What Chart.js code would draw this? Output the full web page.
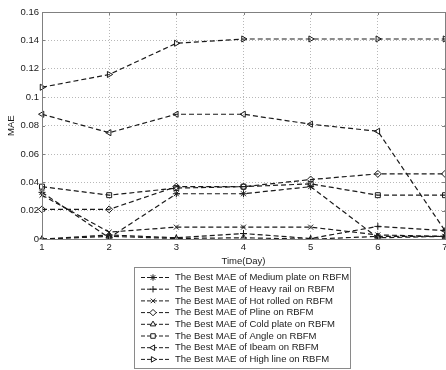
<!DOCTYPE html>
<html>
<head>
<meta charset="utf-8">
<script src="https://cdn.jsdelivr.net/npm/chart.js@4.4.0/dist/chart.umd.min.js"></script>
<style>
  html, body { margin: 0; padding: 0; background: #fff; overflow: hidden; }
  canvas { display: block; }
</style>
</head>
<body>
<canvas id="myChart" width="450" height="370"></canvas>
<script>
// x axis: days
const days = ['1', '2', '3', '4', '5', '6', '7'];

// y axis tick labels (MATLAB style)
const yTickLabels = ['0', '0.02', '0.04', '0.06', '0.08', '0.1', '0.12', '0.14', '0.16'];

// series
const mediumPlate = [0.033, 0.001, 0.032, 0.032, 0.037, 0.001, 0.002];
const heavyRail   = [0.000, 0.003, 0.001, 0.004, 0.0005, 0.009, 0.006];
const hotRolled   = [0.031, 0.005, 0.0085, 0.0085, 0.0085, 0.003, 0.002];
const pline       = [0.021, 0.021, 0.037, 0.037, 0.042, 0.046, 0.046];
const coldPlate   = [0.000, 0.002, 0.0005, 0.001, 0.000, 0.002, 0.002];
const angle       = [0.037, 0.031, 0.036, 0.037, 0.039, 0.031, 0.031];
const ibeam       = [0.088, 0.075, 0.088, 0.088, 0.081, 0.076, 0.006];
const highLine    = [0.107, 0.116, 0.138, 0.141, 0.141, 0.141, 0.141];

const seriesNames = [
  'The Best MAE of Medium plate on RBFM',
  'The Best MAE of Heavy rail on RBFM',
  'The Best MAE of Hot rolled on RBFM',
  'The Best MAE of Pline on RBFM',
  'The Best MAE of Cold plate on RBFM',
  'The Best MAE of Angle on RBFM',
  'The Best MAE of Ibeam on RBFM',
  'The Best MAE of High line on RBFM'
];
const seriesData = [mediumPlate, heavyRail, hotRolled, pline, coldPlate, angle, ibeam, highLine];
const markers = ['star', 'cross', 'crossRot', 'rectRot', 'triangle', 'rect', 'triangle', 'triangle'];
const markerRot = [0, 0, 0, 0, 0, 0, 270, 90];

const lineColor = '#1a1a1a';

const datasets = seriesNames.map((name, i) => ({
  label: name,
  data: seriesData[i],
  borderColor: lineColor,
  borderWidth: 1.2,
  borderDash: [5, 3],
  backgroundColor: 'rgba(0,0,0,0)',
  pointStyle: markers[i],
  pointRotation: markerRot[i],
  pointRadius: 3.5,
  pointBorderWidth: 1,
  pointBorderColor: lineColor,
  pointBackgroundColor: 'rgba(0,0,0,0)',
  tension: 0,
  fill: false
}));

// frame, inward ticks and the boxed legend, drawn MATLAB-like
const matlabFrame = {
  id: 'matlabFrame',
  afterDraw(chart) {
    const ctx = chart.ctx;
    const a = chart.chartArea;
    const xs = chart.scales.x, ys = chart.scales.y;
    ctx.save();
    ctx.strokeStyle = '#808080';
    ctx.lineWidth = 1;
    ctx.setLineDash([]);
    ctx.strokeRect(Math.round(a.left) + 0.5, Math.round(a.top) + 0.5,
      Math.round(a.right - a.left), Math.round(a.bottom - a.top));
    // tick marks pointing inward
    ctx.beginPath();
    xs.ticks.forEach((t, i) => {
      const px = Math.round(xs.getPixelForTick(i)) + 0.5;
      ctx.moveTo(px, a.bottom); ctx.lineTo(px, a.bottom - 3);
      ctx.moveTo(px, a.top); ctx.lineTo(px, a.top + 3);
    });
    ys.ticks.forEach((t, i) => {
      const py = Math.round(ys.getPixelForTick(i)) + 0.5;
      ctx.moveTo(a.left, py); ctx.lineTo(a.left + 3, py);
      ctx.moveTo(a.right, py); ctx.lineTo(a.right - 3, py);
    });
    ctx.stroke();

    // legend box
    const bx = 134.5, by = 267.5, bw = 216, bh = 101;
    ctx.fillStyle = '#fff';
    ctx.fillRect(bx, by, bw, bh);
    ctx.strokeStyle = '#8a8a8a';
    ctx.strokeRect(bx, by, bw, bh);
    ctx.font = '9.5px "Liberation Sans", Arial, sans-serif';
    ctx.textBaseline = 'middle';
    chart.data.datasets.forEach((ds, i) => {
      const y = 277.5 + i * 11.7;
      ctx.strokeStyle = lineColor;
      ctx.lineWidth = 1;
      ctx.setLineDash([4, 2]);
      ctx.beginPath();
      ctx.moveTo(141, y); ctx.lineTo(170, y);
      ctx.stroke();
      ctx.setLineDash([]);
      ctx.fillStyle = '#fff';
      Chart.helpers.drawPoint(ctx, {
        pointStyle: ds.pointStyle, rotation: ds.pointRotation,
        radius: 3.2, borderWidth: 1
      }, 153, y);
      ctx.fillStyle = '#1a1a1a';
      ctx.fillText(ds.label, 175, y);
    });
    ctx.restore();
  }
};

Chart.defaults.font.family = '"Liberation Sans", Arial, sans-serif';
Chart.defaults.font.size = 9.5;
Chart.defaults.color = '#1a1a1a';

const ctx = document.getElementById('myChart').getContext('2d');
new Chart(ctx, {
  type: 'line',
  data: { labels: days, datasets: datasets },
  options: {
    responsive: false,
    animation: false,
    devicePixelRatio: 1,
    layout: { padding: { top: 12, left: 0, right: 0, bottom: 103 } },
    plugins: {
      legend: { display: false },
      tooltip: { enabled: false }
    },
    scales: {
      x: {
        type: 'category',
        offset: false,
        grid: { color: '#b8b8b8', drawTicks: false, offset: false },
        border: { display: false, dash: [1, 2] },
        ticks: { padding: 2, maxRotation: 0, autoSkip: false, color: '#1a1a1a' },
        title: { display: true, text: 'Time(Day)', padding: { top: 1, bottom: 0 }, color: '#1a1a1a' }
      },
      y: {
        min: 0,
        max: 0.16,
        afterFit: (scale) => { scale.width = 42; },
        grid: { color: '#b8b8b8', drawTicks: false },
        border: { display: false, dash: [1, 2] },
        ticks: {
          stepSize: 0.02,
          padding: 3,
          color: '#1a1a1a',
          callback: (v, i) => yTickLabels[i]
        },
        title: { display: true, text: 'MAE', padding: { top: 6, bottom: 0 }, color: '#1a1a1a' }
      }
    }
  },
  plugins: [matlabFrame]
});
</script>
</body>
</html>
